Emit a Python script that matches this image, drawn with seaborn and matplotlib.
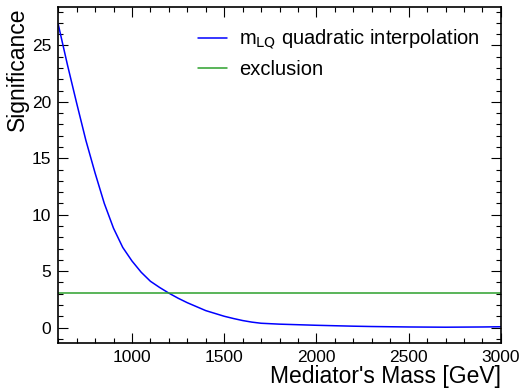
import matplotlib
matplotlib.use("Agg")
import matplotlib.pyplot as plt
from matplotlib.ticker import MultipleLocator
import pandas as pd
import seaborn as sns

# Data
mass = [600, 650, 700, 750, 800, 850, 900, 950, 1000, 1050, 1100, 1150, 1200,
        1250, 1300, 1350, 1400, 1450, 1500, 1550, 1600, 1650, 1700,
        1800, 1900, 2000, 2100, 2200, 2300, 2400, 2500, 2600, 2700, 2800, 2900, 3000]
significance = [26.9, 23.3, 19.9, 16.6, 13.7, 11.0, 8.8, 7.1, 5.9, 4.9, 4.1, 3.55, 3.05,
                2.6, 2.2, 1.85, 1.5, 1.25, 1.0, 0.8, 0.62, 0.48, 0.38,
                0.30, 0.25, 0.20, 0.16, 0.12, 0.09, 0.07, 0.05, 0.04, 0.03, 0.04, 0.05, 0.07]
exclusion = 3.09

sns.set_theme(style="ticks")
plt.rcParams['font.family'] = ['Liberation Sans', 'DejaVu Sans']
plt.rcParams['text.color'] = 'black'
plt.rcParams['axes.labelcolor'] = 'black'

df = pd.DataFrame({'mass': mass, 'significance': significance})

fig = plt.figure(figsize=(5.24, 3.92), dpi=100)
ax = fig.add_axes([0.111, 0.125, 0.845, 0.857])

sns.lineplot(data=df, x='mass', y='significance', color='blue', linewidth=1.1,
             label=r'm$_{\mathrm{LQ}}$ quadratic interpolation', ax=ax)
ax.axhline(exclusion, color='tab:green', linewidth=1.1, label='exclusion')

ax.set_xlim(600, 3000)
ax.set_ylim(-1.37, 28.4)

# HEP style ticks
ax.xaxis.set_major_locator(MultipleLocator(500))
ax.xaxis.set_minor_locator(MultipleLocator(100))
ax.yaxis.set_major_locator(MultipleLocator(5))
ax.yaxis.set_minor_locator(MultipleLocator(1))
ax.tick_params(which='both', direction='in', top=True, right=True, labelsize=12.5,
               colors='black', width=0.8)
ax.tick_params(which='major', length=7, pad=5)
ax.tick_params(which='minor', length=3.5)
for s in ax.spines.values():
    s.set_linewidth(1.2)
    s.set_color('black')

ax.set_xlabel("Mediator's Mass [GeV]", fontsize=16.5, loc='right', labelpad=0)
ax.set_ylabel("Significance", fontsize=16.5, loc='top', labelpad=2)

ax.legend(loc='upper right', frameon=False, fontsize=14.5, handlelength=1.45,
          borderaxespad=0.65, labelspacing=0.45, handletextpad=0.6)

fig.savefig('out.png', dpi=100)
